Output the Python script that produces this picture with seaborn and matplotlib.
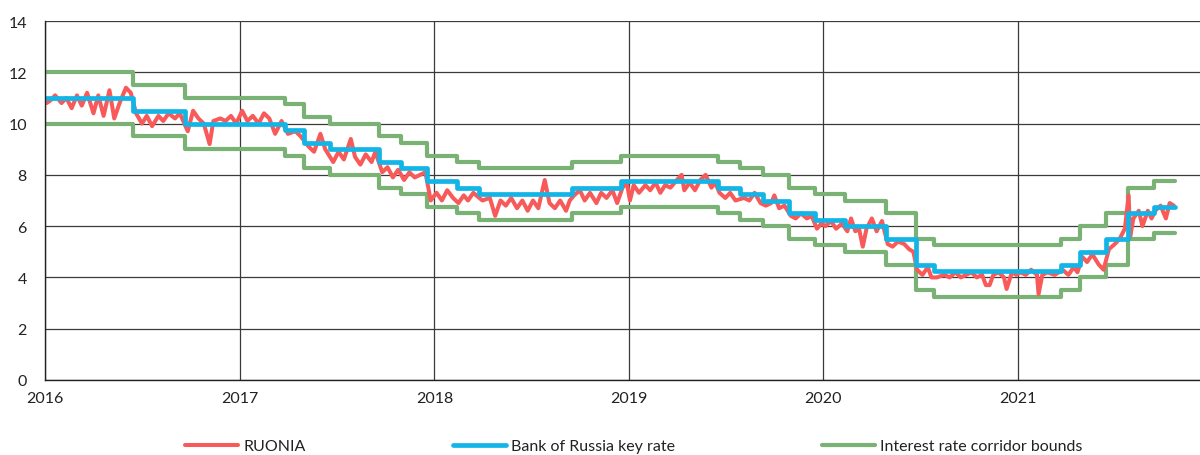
import matplotlib
matplotlib.use("Agg")
import matplotlib.pyplot as plt
import matplotlib.dates as mdates
import seaborn as sns
import pandas as pd

# ---- Data ----
ruonia_dates = [
    "2016-01-04", "2016-01-11", "2016-01-20", "2016-02-01", "2016-02-10", "2016-02-20", "2016-03-01",
    "2016-03-10", "2016-03-20", "2016-04-01", "2016-04-10", "2016-04-20", "2016-05-01", "2016-05-10",
    "2016-05-20", "2016-06-01", "2016-06-10", "2016-06-20", "2016-07-01", "2016-07-10", "2016-07-20",
    "2016-08-01", "2016-08-10", "2016-08-20", "2016-09-01", "2016-09-10", "2016-09-25", "2016-10-05",
    "2016-10-15", "2016-10-25", "2016-11-05", "2016-11-12", "2016-11-25", "2016-12-05", "2016-12-15",
    "2016-12-25", "2017-01-05", "2017-01-15", "2017-01-25", "2017-02-05", "2017-02-15", "2017-02-25",
    "2017-03-08", "2017-03-20", "2017-04-01", "2017-04-15", "2017-04-25", "2017-05-10", "2017-05-20",
    "2017-06-01", "2017-06-10", "2017-06-25", "2017-07-05", "2017-07-15", "2017-07-28", "2017-08-05",
    "2017-08-15", "2017-08-25", "2017-09-05", "2017-09-12", "2017-09-25", "2017-10-05", "2017-10-15",
    "2017-10-25", "2017-11-05", "2017-11-15", "2017-11-25", "2017-12-05", "2017-12-15", "2017-12-25",
    "2018-01-05", "2018-01-15", "2018-01-25", "2018-02-05", "2018-02-15", "2018-02-25", "2018-03-05",
    "2018-03-15", "2018-04-01", "2018-04-15", "2018-04-25", "2018-05-05", "2018-05-15", "2018-05-25",
    "2018-06-05", "2018-06-15", "2018-06-25", "2018-07-05", "2018-07-15", "2018-07-27", "2018-08-05",
    "2018-08-15", "2018-08-25", "2018-09-05", "2018-09-12", "2018-09-20", "2018-10-01", "2018-10-10",
    "2018-10-20", "2018-11-01", "2018-11-10", "2018-11-20", "2018-12-01", "2018-12-10", "2018-12-20",
    "2018-12-28", "2019-01-03", "2019-01-10", "2019-01-20", "2019-02-01", "2019-02-10", "2019-02-20",
    "2019-03-01", "2019-03-10", "2019-03-20", "2019-04-01", "2019-04-10", "2019-04-15", "2019-04-25",
    "2019-05-05", "2019-05-15", "2019-05-25", "2019-06-05", "2019-06-12", "2019-06-20", "2019-07-01",
    "2019-07-10", "2019-07-20", "2019-08-05", "2019-08-15", "2019-08-25", "2019-09-05", "2019-09-15",
    "2019-09-25", "2019-10-01", "2019-10-10", "2019-10-20", "2019-11-01", "2019-11-10", "2019-11-20",
    "2019-12-01", "2019-12-10", "2019-12-20", "2019-12-28", "2020-01-05", "2020-01-15", "2020-01-25",
    "2020-02-05", "2020-02-15", "2020-02-22", "2020-03-01", "2020-03-08", "2020-03-15", "2020-03-22",
    "2020-04-01", "2020-04-10", "2020-04-20", "2020-05-01", "2020-05-10", "2020-05-20", "2020-06-01",
    "2020-06-10", "2020-06-18", "2020-06-25", "2020-07-05", "2020-07-15", "2020-07-22", "2020-08-01",
    "2020-08-15", "2020-08-25", "2020-09-05", "2020-09-15", "2020-09-25", "2020-10-05", "2020-10-15",
    "2020-10-25", "2020-11-01", "2020-11-08", "2020-11-15", "2020-11-25", "2020-12-05", "2020-12-10",
    "2020-12-20", "2020-12-28", "2021-01-05", "2021-01-15", "2021-01-25", "2021-02-05", "2021-02-08",
    "2021-02-15", "2021-02-25", "2021-03-10", "2021-03-18", "2021-03-25", "2021-04-05", "2021-04-15",
    "2021-04-22", "2021-05-01", "2021-05-10", "2021-05-20", "2021-06-01", "2021-06-10", "2021-06-20",
    "2021-07-01", "2021-07-10", "2021-07-20", "2021-07-27", "2021-07-30", "2021-08-05", "2021-08-15",
    "2021-08-22", "2021-09-01", "2021-09-08", "2021-09-15", "2021-09-25", "2021-10-05", "2021-10-12",
    "2021-10-20",
]
ruonia_values = [
    10.8, 10.9, 11.1, 10.8, 11.0, 10.6, 11.1,
    10.7, 11.2, 10.4, 11.1, 10.3, 11.3, 10.2,
    10.8, 11.4, 11.2, 10.4, 10.0, 10.3, 9.9,
    10.3, 10.1, 10.4, 10.2, 10.4, 9.7, 10.5,
    10.2, 10.0, 9.2, 10.1, 10.2, 10.1, 10.3,
    10.0, 10.5, 10.1, 10.3, 10.0, 10.4, 10.2,
    9.6, 10.1, 9.6, 9.7, 9.5, 9.1, 8.9,
    9.6, 9.0, 8.5, 8.9, 8.6, 9.4, 8.7,
    8.4, 8.8, 8.5, 8.9, 8.1, 8.3, 7.9,
    8.2, 7.8, 8.1, 7.9, 8.0, 8.1, 7.0,
    7.3, 7.0, 7.4, 7.1, 6.9, 7.2, 7.0,
    7.3, 7.0, 7.1, 6.4, 7.0, 6.8, 7.1,
    6.7, 7.0, 6.6, 7.0, 6.7, 7.8, 6.9,
    6.7, 7.0, 6.6, 7.0, 7.2, 7.4, 7.0,
    7.3, 6.9, 7.3, 7.1, 7.4, 6.9, 7.5,
    7.7, 7.0, 7.6, 7.3, 7.6, 7.4, 7.7,
    7.3, 7.6, 7.5, 7.8, 8.0, 7.4, 7.7,
    7.4, 7.8, 8.0, 7.5, 7.7, 7.3, 7.1,
    7.3, 7.0, 7.1, 7.0, 7.3, 6.9, 6.8,
    6.9, 7.2, 6.7, 6.8, 6.4, 6.3, 6.5,
    6.3, 6.4, 5.9, 6.1, 6.0, 6.2, 5.9,
    6.1, 5.8, 6.3, 5.8, 5.9, 5.2, 5.9,
    6.3, 5.8, 6.2, 5.3, 5.2, 5.4, 5.3,
    5.1, 5.0, 4.3, 4.1, 4.4, 4.0, 4.0,
    4.1, 4.0, 4.2, 4.0, 4.1, 4.2, 4.0,
    4.1, 3.7, 3.7, 4.1, 4.2, 4.0, 3.55,
    4.2, 4.1, 4.2, 4.1, 4.3, 4.1, 3.35,
    4.1, 4.2, 4.1, 4.2, 4.3, 4.1, 4.4,
    4.2, 4.8, 4.6, 4.9, 4.5, 4.3, 5.1,
    5.3, 5.5, 5.9, 7.2, 5.6, 6.3, 6.6,
    6.0, 6.6, 6.3, 6.6, 6.8, 6.3, 6.9,
    6.8,
]

rate_dates = [
    "2016-01-01", "2016-06-14", "2016-09-19", "2017-03-27", "2017-05-02", "2017-06-19",
    "2017-09-18", "2017-10-30", "2017-12-18", "2018-02-12", "2018-03-26", "2018-09-17",
    "2018-12-17", "2019-06-17", "2019-07-29", "2019-09-09", "2019-10-28", "2019-12-16",
    "2020-02-10", "2020-04-27", "2020-06-22", "2020-07-27", "2021-03-22", "2021-04-26",
    "2021-06-15", "2021-07-26", "2021-09-13", "2021-10-22",
]
key_rate = [
    11.00, 10.50, 10.00, 9.75, 9.25, 9.00,
    8.50, 8.25, 7.75, 7.50, 7.25, 7.50,
    7.75, 7.50, 7.25, 7.00, 6.50, 6.25,
    6.00, 5.50, 4.50, 4.25, 4.50, 5.00,
    5.50, 6.50, 6.75, 6.75,
]
corridor_upper = [
    12.00, 11.50, 11.00, 10.75, 10.25, 10.00,
    9.50, 9.25, 8.75, 8.50, 8.25, 8.50,
    8.75, 8.50, 8.25, 8.00, 7.50, 7.25,
    7.00, 6.50, 5.50, 5.25, 5.50, 6.00,
    6.50, 7.50, 7.75, 7.75,
]
corridor_lower = [
    10.00, 9.50, 9.00, 8.75, 8.25, 8.00,
    7.50, 7.25, 6.75, 6.50, 6.25, 6.50,
    6.75, 6.50, 6.25, 6.00, 5.50, 5.25,
    5.00, 4.50, 3.50, 3.25, 3.50, 4.00,
    4.50, 5.50, 5.75, 5.75,
]
series_labels = ["RUONIA", "Bank of Russia key rate", "Interest rate corridor bounds"]
y_ticks = [0, 2, 4, 6, 8, 10, 12, 14]
x_years = [2016, 2017, 2018, 2019, 2020, 2021]

# ---- Frames ----
ruonia_df = pd.DataFrame({"date": pd.to_datetime(ruonia_dates), "value": ruonia_values})
rates_df = pd.DataFrame({
    "date": pd.to_datetime(rate_dates),
    "key": key_rate,
    "upper": corridor_upper,
    "lower": corridor_lower,
})

RED = "#F85A5A"
BLUE = "#12B5E6"
GREEN = "#7AB175"

sns.set_style("white")
plt.rcParams["font.family"] = ["Lato", "DejaVu Sans"]

fig = plt.figure(figsize=(12, 4.56), dpi=100)
ax = fig.add_axes([45 / 1200, 75 / 456, 1155 / 1200, 359 / 456])

sns.lineplot(data=rates_df, x="date", y="upper", ax=ax, color=GREEN, lw=3.0,
             drawstyle="steps-post", label=series_labels[2], solid_capstyle="round")
sns.lineplot(data=rates_df, x="date", y="lower", ax=ax, color=GREEN, lw=3.0,
             drawstyle="steps-post", label="_nolegend_", solid_capstyle="round")
sns.lineplot(data=ruonia_df, x="date", y="value", ax=ax, color=RED, lw=2.9,
             label=series_labels[0], solid_capstyle="round", solid_joinstyle="round")
sns.lineplot(data=rates_df, x="date", y="key", ax=ax, color=BLUE, lw=3.4,
             drawstyle="steps-post", label=series_labels[1], solid_capstyle="round")

ax.set_ylim(0, 14)
ax.set_yticks(y_ticks)
ax.set_xlim(pd.Timestamp("2016-01-01"), pd.Timestamp("2021-12-08"))
ax.set_xticks([pd.Timestamp(f"{y}-01-01") for y in x_years])
ax.xaxis.set_major_formatter(mdates.DateFormatter("%Y"))
ax.set_xlabel("")
ax.set_ylabel("")

ax.grid(True, color="#3a3a3a", lw=0.9)
ax.set_axisbelow(True)
for s in ["top", "right"]:
    ax.spines[s].set_visible(False)
for s in ["left", "bottom"]:
    ax.spines[s].set_color("#222222")
    ax.spines[s].set_linewidth(1.0)
ax.tick_params(axis="x", length=5, width=0.9, color="#222222", pad=3, labelsize=11.5, labelcolor="#222222")
ax.tick_params(axis="y", length=0, pad=13, labelsize=11.5, labelcolor="#222222")

handles, labels = ax.get_legend_handles_labels()
order = [labels.index(l) for l in series_labels]
ax.get_legend().remove()
leg = fig.legend([handles[i] for i in order], [labels[i] for i in order],
                 loc="center", bbox_to_anchor=(634 / 1200, 1 - 447 / 456), ncol=3,
                 frameon=False, fontsize=11.5, handlelength=3.3, handletextpad=0.35,
                 columnspacing=9.2)
for t in leg.get_texts():
    t.set_color("#222222")

fig.savefig("out.png", dpi=100)
